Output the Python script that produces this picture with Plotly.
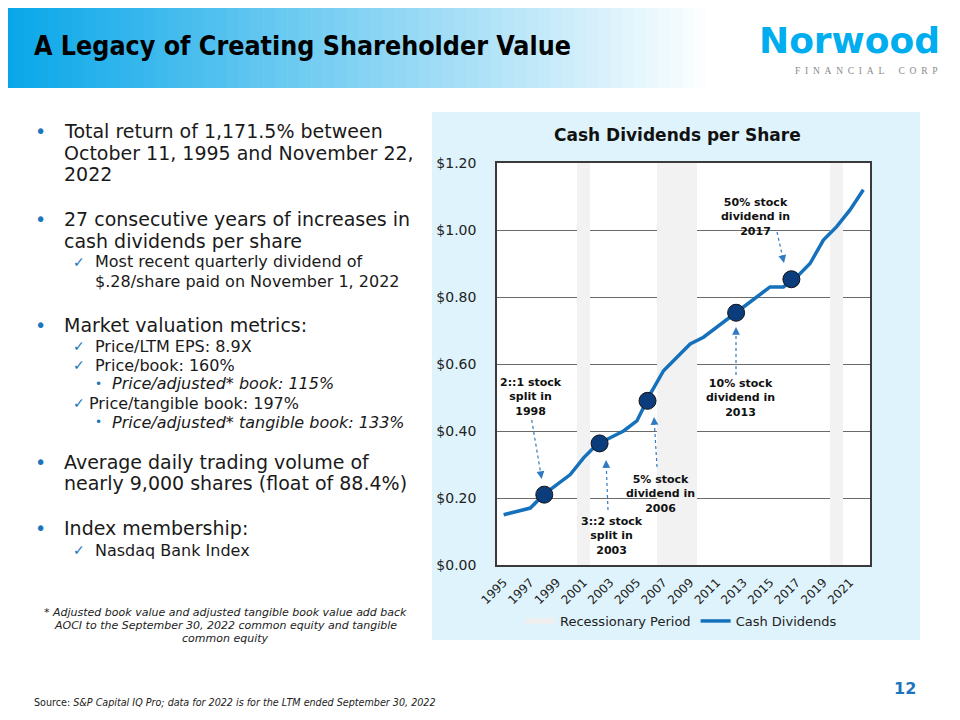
import plotly.graph_objects as go

# ---------------- data ----------------
years = list(range(1995, 2023))
dividends = [0.15, 0.16, 0.17, 0.21, 0.24, 0.27, 0.32, 0.36, 0.38, 0.40, 0.43, 0.51,
             0.58, 0.62, 0.66, 0.68, 0.71, 0.74, 0.77, 0.80, 0.83, 0.83, 0.86, 0.90,
             0.97, 1.01, 1.06, 1.12]
recession_years = [2001, 2007, 2008, 2009, 2020]
event_years = [1998.05, 2002.2, 2005.8, 2012.45, 2016.6]
event_values = [0.21, 0.363, 0.49, 0.753, 0.853]
event_labels = ["2::1 stock<br>split in<br>1998",
                "3::2 stock<br>split in<br>2003",
                "5% stock<br>dividend in<br>2006",
                "10% stock<br>dividend in<br>2013",
                "50% stock<br>dividend in<br>2017"]
x_tickvals = list(range(1995, 2022, 2))
x_ticktext = [str(y) for y in x_tickvals]
y_max = 1.2
y_tickvals = [0.0, 0.2, 0.4, 0.6, 0.8, 1.0, 1.2]
y_ticktext = ["$0.00", "$0.20", "$0.40", "$0.60", "$0.80", "$1.00", "$1.20"]

FONT = "Verdana, DejaVu Sans, sans-serif"
OFF = 8                      # page body margin of the browser
W, H = 960 - OFF, 720 - OFF
PL, PR, PT, PB = 497, 870, 163, 565   # plot area in page pixels


def X(px):
    return (px - OFF) / W


def Y(py):
    return 1 - (py - OFF) / H


fig = go.Figure()

# legend dummy for recession
fig.add_trace(go.Scatter(x=[None], y=[None], mode="lines", name="Recessionary Period",
                         line=dict(color="#efefef", width=6)))
fig.add_trace(go.Bar(x=recession_years, y=[y_max] * len(recession_years), width=1,
                     marker=dict(color="#f2f2f2", line=dict(width=0)),
                     showlegend=False, hoverinfo="skip"))
fig.add_trace(go.Scatter(x=years, y=dividends, mode="lines", name="Cash Dividends",
                         line=dict(color="#1571bb", width=3.5)))
fig.add_trace(go.Scatter(x=event_years, y=event_values, mode="markers", showlegend=False,
                         marker=dict(size=17, color="#0b3d7d",
                                     line=dict(color="#111", width=1))))

shapes = []
# header gradient
c0 = (8, 166, 232)
c1 = (255, 255, 255)
n = 60
gw = 718
for i in range(n):
    t = i / (n - 1)
    col = tuple(int(round(c0[k] + (c1[k] - c0[k]) * t)) for k in range(3))
    shapes.append(dict(type="rect", xref="paper", yref="paper",
                       x0=X(gw * i / n), x1=X(gw * (i + 1) / n + 0.6),
                       y0=Y(88), y1=Y(0), fillcolor="rgb(%d,%d,%d)" % col,
                       line=dict(width=0), layer="below"))
# chart panel
shapes.append(dict(type="rect", xref="paper", yref="paper", x0=X(432), x1=X(920),
                   y0=Y(640), y1=Y(112), fillcolor="#def3fb", line=dict(width=0),
                   layer="below"))
shapes.append(dict(type="rect", xref="paper", yref="paper", x0=X(PL), x1=X(PR),
                   y0=Y(PB), y1=Y(PT), fillcolor="white", line=dict(width=0),
                   layer="below"))

annotations = []


def txt(x, y, s, size, color="#1a1a1a", xanchor="left", bold=False, italic=False,
        family=FONT):
    if bold:
        s = "<b>%s</b>" % s
    if italic:
        s = "<i>%s</i>" % s
    annotations.append(dict(x=X(x), y=Y(y), xref="paper", yref="paper", text=s,
                            showarrow=False, xanchor=xanchor, yanchor="middle",
                            font=dict(size=size, color=color, family=family)))


def arrow(tail, head):
    dx = tail[0] - head[0]
    dy = tail[1] - head[1]
    L = (dx * dx + dy * dy) ** 0.5
    ux, uy = dx / L, dy / L
    shapes.append(dict(type="line", xref="paper", yref="paper",
                       x0=X(tail[0]), y0=Y(tail[1]),
                       x1=X(head[0] + ux * 6), y1=Y(head[1] + uy * 6),
                       line=dict(color="#2f7ac2", width=1.2, dash="dot")))
    annotations.append(dict(x=X(head[0]), y=Y(head[1]), xref="paper", yref="paper",
                            text="", showarrow=True, ax=ux * 8, ay=uy * 8,
                            arrowhead=2, arrowsize=1.3, arrowwidth=1.2,
                            arrowcolor="#2f7ac2", standoff=0))


# title
txt(32, 45, "A Legacy of Creating Shareholder Value", 26.6, color="#000",
    bold=True, family="DejaVu Sans Condensed, DejaVu Sans, sans-serif")
# logo
txt(849, 40, "Norwood", 36, color="#00aeef", xanchor="center", bold=True,
    family="DejaVu Sans, sans-serif")
sp = "\u2002"
logo_sub = sp.join("FINANCIAL") + sp * 3 + sp.join("CORP")
txt(866, 71, logo_sub, 9.5, color="#8a8a8a", xanchor="center",
    family="Liberation Serif, serif")

# chart title
txt(677, 135, "Cash Dividends per Share", 17, color="#111", xanchor="center", bold=True)

# event labels and arrows
label_pos = [(531, 397), (612, 536), (660, 494), (740, 398), (755, 217)]
arrows = [((531.7, 420), (541.7, 479)), ((608, 510), (606, 460)),
          ((657, 467), (654, 417)), ((736, 375), (736, 327)),
          ((777, 232), (784, 263))]
for (lx, ly), lab in zip(label_pos, event_labels):
    txt(lx, ly, lab, 11, color="#111", xanchor="center", bold=True)
for t, h in arrows:
    arrow(t, h)

# left bullet text
BLUE = "#1b75bc"
main = [(131, "Total return of 1,171.5% between", True),
        (153, "October 11, 1995 and November 22,", False),
        (174, "2022", False),
        (219, "27 consecutive years of increases in", True),
        (241, "cash dividends per share", False),
        (325, "Market valuation metrics:", True),
        (462, "Average daily trading volume of", True),
        (483, "nearly 9,000 shares (float of 88.4%)", False),
        (528, "Index membership:", True)]
for y, s, b in main:
    if b:
        txt(33, y, "•", 19, color=BLUE)
    txt(62, y, s, 19)

subs = [(262, "Most recent quarterly dividend of", True, 93),
        (281, "$.28/share paid on November 1, 2022", False, 93),
        (346, "Price/LTM EPS: 8.9X", True, 93),
        (365, "Price/book: 160%", True, 93),
        (403, "Price/tangible book: 197%", True, 87),
        (550, "Nasdaq Bank Index", True, 93)]
for y, s, c, x in subs:
    if c:
        txt(71, y, "✓", 14, color=BLUE)
    txt(x, y, s, 16)

subsubs = [(384, "Price/adjusted* book: 115%"),
           (422, "Price/adjusted* tangible book: 133%")]
for y, s in subsubs:
    txt(93, y, "•", 12, color=BLUE)
    txt(110, y, s, 16, italic=True)

# footnote
foot = ["* Adjusted book value and adjusted tangible book value add back",
        "AOCI to the September 30, 2022 common equity and tangible",
        "common equity"]
for i, s in enumerate(foot):
    txt(225, 612 + 13 * i, s, 11, color="#222", xanchor="center", italic=True)

txt(32, 702, "Source: <i>S&P Capital IQ Pro; data for 2022 is for the LTM ended September 30, 2022</i>",
    9.6, color="#222")
txt(905, 688, "12", 16, color=BLUE, xanchor="center", bold=True)

fig.update_layout(
    template="none",
    width=W, height=H, autosize=False,
    margin=dict(l=0, r=0, t=0, b=0, pad=0, autoexpand=False),
    paper_bgcolor="white", plot_bgcolor="white",
    font=dict(family=FONT, size=13, color="#1a1a1a"),
    barmode="overlay", bargap=0,
    showlegend=True,
    legend=dict(orientation="h", x=X(681), xanchor="center", y=Y(621),
                yanchor="middle", bgcolor="rgba(0,0,0,0)",
                font=dict(size=13, color="#222", family=FONT),
                itemwidth=30, tracegroupgap=0),
    shapes=shapes, annotations=annotations,
    xaxis=dict(domain=[X(PL), X(PR)], range=[1994.5, 2022.5], tickmode="array",
               tickvals=x_tickvals, ticktext=x_ticktext, tickangle=-45,
               automargin=False,
               showgrid=False, zeroline=False, showline=True, mirror=True,
               linecolor="#3a3a3a", linewidth=1.5, ticks="outside", ticklen=4,
               tickcolor="rgba(0,0,0,0)", tickfont=dict(size=12, color="#222")),
    yaxis=dict(domain=[Y(PB), Y(PT)], range=[0, y_max], tickmode="array",
               tickvals=y_tickvals, ticktext=y_ticktext, automargin=False,
               showgrid=True, gridcolor="#6a6a6a", gridwidth=1, zeroline=False,
               showline=True, mirror=True, linecolor="#3a3a3a", linewidth=1.5,
               ticks="outside", ticklen=16, tickcolor="rgba(0,0,0,0)",
               tickfont=dict(size=14, color="#222")),
)

fig.write_html("out.html")
